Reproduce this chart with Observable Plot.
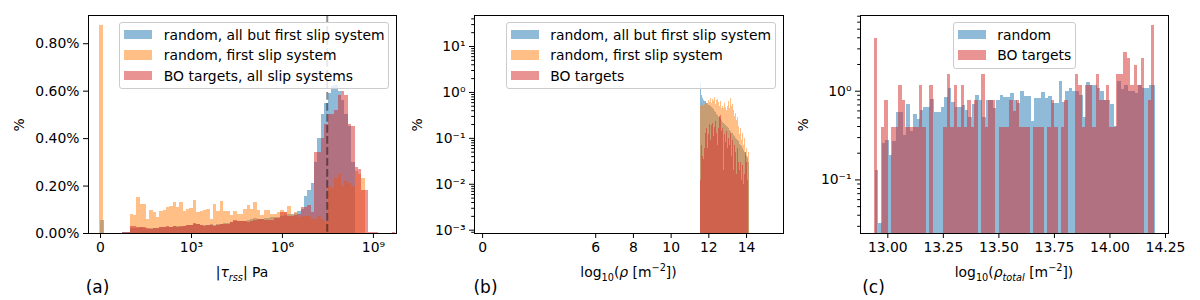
<!DOCTYPE html>
<html><head><meta charset="utf-8">
<script src="https://cdn.jsdelivr.net/npm/d3@7"></script>
<script src="https://cdn.jsdelivr.net/npm/@observablehq/plot@0.6"></script>
<style>
body{margin:0;background:#fff;font-family:"DejaVu Sans",sans-serif;}
#root{position:relative;width:1200px;height:300px;overflow:hidden;background:#fff;}
.lbl{position:absolute;font-size:13.9px;white-space:nowrap;color:#000;transform:translate(-50%,-50%);line-height:1;}
.lbl sub,.lbl sup{font-size:70%;line-height:0;}
.legend{position:absolute;background:rgba(255,255,255,0.8);border:1px solid #cccccc;border-radius:3px;box-sizing:border-box;}
.legend .t{position:absolute;font-size:13.9px;line-height:16px;white-space:nowrap;color:#000;}
.legend .s{position:absolute;}
</style></head><body><div id="root"></div>
<script>
// ---------------- DATA ----------------
// Panel (a): |tau_rss| histograms, bins of 1/9 decade starting at log10 = 0.95 (bin index 0)
const tauLog10Start = 0.95;
const tauLog10Step = 1 / 9;
const tauBlueFirstBin = -3;
const tauBlue = [0.004, 0.004, 0.006,
  0.02, 0.022, 0.02, 0.024, 0.022, 0.018, 0.02, 0.022, 0.02, 0.024,
  0.025, 0.027, 0.024, 0.028, 0.03, 0.027, 0.03, 0.032, 0.035, 0.037,
  0.036, 0.034, 0.032, 0.034, 0.036, 0.035, 0.038, 0.04, 0.042, 0.044,
  0.046, 0.05, 0.049, 0.05, 0.052, 0.053, 0.058, 0.062, 0.06, 0.058,
  0.062, 0.064, 0.066, 0.068, 0.068, 0.072, 0.076, 0.08, 0.078, 0.085,
  0.092, 0.1, 0.155, 0.18, 0.21, 0.3, 0.4, 0.5, 0.55, 0.59,
  0.62, 0.623, 0.6, 0.56, 0.5, 0.45, 0.3];
const tauOrangeFirstBin = 0;
const tauOrange = [0.08, 0.077, 0.15, 0.123, 0.123, 0.061, 0.095, 0.09, 0.066, 0.091,
  0.095, 0.108, 0.115, 0.129, 0.11, 0.129, 0.091, 0.1, 0.105, 0.14,
  0.088, 0.091, 0.096, 0.1, 0.06, 0.123, 0.093, 0.133, 0.093, 0.091,
  0.077, 0.091, 0.08, 0.08, 0.1, 0.118, 0.1, 0.13, 0.095, 0.077,
  0.095, 0.095, 0.082, 0.08, 0.09, 0.095, 0.09, 0.115, 0.075, 0.09,
  0.068, 0.07, 0.07, 0.07, 0.06, 0.06, 0.07, 0.06, 0.05, 0.2,
  0.19, 0.23, 0.25, 0.2, 0.22, 0.21, 0.2, 0.26, 0.25, 0.23];
const tauRedFirstBin = -3;
const tauRed = [0.004, 0.005, 0.005,
  0.028, 0.028, 0.025, 0.026, 0.026, 0.02, 0.018, 0.02, 0.02, 0.024,
  0.025, 0.028, 0.026, 0.028, 0.026, 0.028, 0.03, 0.035, 0.035, 0.042,
  0.04, 0.035, 0.03, 0.032, 0.032, 0.03, 0.035, 0.038, 0.04, 0.04,
  0.045, 0.055, 0.05, 0.05, 0.05, 0.048, 0.05, 0.055, 0.058, 0.058,
  0.055, 0.055, 0.055, 0.063, 0.063, 0.09, 0.09, 0.07, 0.07, 0.075,
  0.08, 0.11, 0.11, 0.12, 0.09, 0.34, 0.34, 0.4, 0.46, 0.5,
  0.5, 0.52, 0.58, 0.6, 0.58, 0.46, 0.45, 0.28, 0.27, 0.18,
  0.18, 0.006, 0.006, 0.004, 0, 0, 0, 0, 0.004];
const tauZeroBinBlue = [0, 0.37], tauZeroBlue = 0.055;
const tauZeroBinOrange = [-0.07, 0.25], tauZeroOrange = 0.875;
const tauCritical = 3e7;
const tauTicks = [0, 1e3, 1e6, 1e9];
const pctTicks = [0, 0.2, 0.4, 0.6, 0.8];

// Panel (b): log10(rho) histograms, bins of 0.05 starting at 11.55
const rhoStart = 11.55;
const rhoStep = 0.05;
const rhoBlue = [1.55, 0.85, 0.72, 0.68, 0.65, 0.62, 0.6, 0.57, 0.56, 0.53,
  0.51, 0.5, 0.48, 0.45, 0.42, 0.38, 0.36, 0.33, 0.31, 0.29,
  0.28, 0.265, 0.25, 0.24, 0.225, 0.21, 0.2, 0.19, 0.18, 0.17,
  0.16, 0.15, 0.14, 0.13, 0.125, 0.115, 0.108, 0.1, 0.095, 0.09,
  0.085, 0.08, 0.075, 0.07, 0.065, 0.06, 0.055, 0.05, 0.045, 0.04,
  0.036, 0.03];
const rhoOrange = [0.5, 0.58, 0.52, 0.5, 0.55, 0.62, 0.5, 0.58, 0.55, 0.68,
  0.6, 0.74, 0.58, 0.7, 0.63, 0.76, 0.55, 0.66, 0.7, 0.6,
  0.5, 0.62, 0.45, 0.55, 0.5, 0.45, 0.58, 0.48, 0.4, 0.5,
  0.62, 0.45, 0.72, 0.5, 0.55, 0.4, 0.3, 0.35, 0.24, 0.28,
  0.18, 0.22, 0.12, 0.16, 0.09, 0.13, 0.07, 0.1, 0.05, 0.06,
  0.04, 0.05];
const rhoRed = [0.012, 0.07, 0.04, 0.035, 0.06, 0.13, 0.1, 0.16, 0.06, 0.12,
  0.2, 0.09, 0.19, 0.21, 0.11, 0.17, 0.23, 0.13, 0.07, 0.16,
  0.3, 0.32, 0.14, 0.05, 0.16, 0.02, 0.12, 0.08, 0.14, 0.06,
  0.1, 0.07, 0.13, 0.04, 0.09, 0.02, 0.07, 0.05, 0.016, 0.06,
  0.03, 0.04, 0.02, 0.03, 0.012, 0.025, 0.01, 0.016, 0.05, 0.03,
  0.012];
const rhoTicks = [0, 6, 8, 10, 12, 14];
const rhoYTicks = [1e-3, 1e-2, 1e-1, 1, 10];

// Panel (c): log10(rho_total) histograms, 81 bins from 12.9401, width 0.015586
const totStart = 12.9401;
const totStep = 0.015586;
const totBlueStart = 12.9446;
const totBlue = [0.128, 0.032, 0.26, 0.28, 0.19, 0.27, 0.58, 0.58, 0.32, 0.71,
  0.35, 0.55, 0.48, 0.6, 0.66, 0.66, 0.8, 0.58, 0.58, 0.66,
  0.85, 1.06, 0.75, 0.66, 0.66, 0.69, 0.61, 0.5, 0.7, 0.9,
  0.78, 0.5, 0.78, 0.78, 0.63, 0.78, 0.9, 0.85, 0.85, 0.94,
  0.78, 0.72, 1.0, 0.88, 0.88, 0.46, 0.82, 0.82, 0.97, 0.82,
  0.88, 0.72, 0.72, 1.29, 0.74, 0.98, 1.07, 1.0, 1.0, 0.9,
  0.5, 1.25, 1.17, 1.17, 1.06, 1.0, 0.78, 0.78, 0.7, 0.4,
  1.3, 1.05, 1.17, 1.0, 1.0, 0.95, 1.17, 1.06, 1.06, 1.17,
  1.17];
const totRed = [3.9, 0, 0.39, 0.78, 0, 0.39, 0.39, 1.17, 0.78, 0.39,
  0.39, 0.39, 0.39, 1.17, 0.39, 0, 1.17, 0, 0, 0,
  0.39, 1.56, 0.39, 1.17, 0.39, 1.17, 0.39, 0.78, 0.39, 0.78,
  0, 1.56, 0.39, 0.78, 0.78, 0, 0.39, 0.39, 0.39, 0.78,
  0.59, 0.78, 0.39, 0.39, 0.39, 0, 0.39, 0.39, 0.39, 0,
  0.39, 0.78, 0.39, 0, 0.39, 0.78, 0, 0, 1.56, 1.17,
  0.39, 1.17, 1.17, 0.39, 1.56, 0.78, 0.78, 1.17, 0.39, 0.39,
  1.56, 1.56, 2.73, 2.34, 1.17, 1.95, 1.17, 2.34, 0, 0.78,
  5.47];
const totTicks = [13.0, 13.25, 13.5, 13.75, 14.0, 14.25];
const totYTicks = [0.1, 1];

const legendA = ["random, all but first slip system", "random, first slip system", "BO targets, all slip systems"];
const legendB = ["random, all but first slip system", "random, first slip system", "BO targets"];
const legendC = ["random", "BO targets"];

// ---------------- HELPERS ----------------
const BLUE = "#1f77b4", ORANGE = "#ff7f0e", RED = "#d62728";
const root = document.getElementById("root");
const SUP = {"-": "⁻", "0": "⁰", "1": "¹", "2": "²", "3": "³", "4": "⁴", "5": "⁵", "6": "⁶", "7": "⁷", "8": "⁸", "9": "⁹"};
const pow10 = d => d === 0 ? "0" : "10" + String(Math.round(Math.log10(d))).replace(/./g, c => SUP[c]);
const STYLE = {fontFamily: "DejaVu Sans", fontSize: "13.9px", background: "transparent", color: "black", overflow: "visible"};

function bins(values, start, step, base, map = e => e) {
  return values.map((v, i) => ({x1: map(start + step * i), x2: map(start + step * (i + 1)), y1: base, y2: v}))
    .filter(d => d.y2 > 0);
}
function bars(data, color) {
  return Plot.rect(data, {x1: "x1", x2: "x2", y1: "y1", y2: "y2", fill: color, fillOpacity: 0.5, inset: 0, shapeRendering: "crispEdges"});
}
function minorLog(lo, hi) {
  const out = [];
  for (let e = Math.floor(Math.log10(lo)); e <= Math.ceil(Math.log10(hi)); e++)
    for (let m = 2; m <= 9; m++) { const v = m * 10 ** e; if (v >= lo && v <= hi) out.push(v); }
  return out;
}
function place(svg, left) {
  svg.style.position = "absolute"; svg.style.left = left + "px"; svg.style.top = "0px";
  root.appendChild(svg);
}
function label(html, x, y, size) {
  const d = document.createElement("div");
  d.className = "lbl"; d.innerHTML = html;
  d.style.left = x + "px"; d.style.top = y + "px";
  if (size) d.style.fontSize = size + "px";
  root.appendChild(d); return d;
}
function ylabel(x, y) { const d = label("%", x, y); d.style.transform = "translate(-50%,-50%) rotate(-90deg)"; }
function legend(left, top, width, items) {
  const box = document.createElement("div");
  box.className = "legend";
  Object.assign(box.style, {left: left + "px", top: top + "px", width: width + "px", height: (5.5 + 20.5 * items.length) + "px"});
  items.forEach(([text, color], i) => {
    const cy = 11.4 + 20.5 * i;
    const s = document.createElement("div"); s.className = "s";
    Object.assign(s.style, {left: "4.2px", top: (cy - 4.9) + "px", width: "27.8px", height: "9.7px", background: color, opacity: 0.5});
    const t = document.createElement("div"); t.className = "t"; t.textContent = text;
    Object.assign(t.style, {left: "43.5px", top: (cy - 8) + "px"});
    box.appendChild(s); box.appendChild(t);
  });
  root.appendChild(box);
}
const common = {width: 400, height: 300, marginTop: 15, marginBottom: 67, style: STYLE};

// ---------------- PANEL A ----------------
{
  const m = e => 10 ** e;
  const blue = bins(tauBlue, tauLog10Start + tauLog10Step * tauBlueFirstBin, tauLog10Step, 0, m);
  const orange = bins(tauOrange, tauLog10Start + tauLog10Step * tauOrangeFirstBin, tauLog10Step, 0, m);
  const red = bins(tauRed, tauLog10Start + tauLog10Step * tauRedFirstBin, tauLog10Step, 0, m);
  blue.unshift({x1: tauZeroBinBlue[0], x2: tauZeroBinBlue[1], y1: 0, y2: tauZeroBlue});
  orange.unshift({x1: tauZeroBinOrange[0], x2: tauZeroBinOrange[1], y1: 0, y2: tauZeroOrange});
  place(Plot.plot({
    ...common, marginLeft: 88, marginRight: 4,
    x: {type: "symlog", constant: 1, domain: [-1.487, 5.77e9]},
    y: {type: "linear", domain: [0, 0.919]},
    marks: [
      bars(blue, BLUE), bars(orange, ORANGE), bars(red, RED),
      Plot.ruleX([tauCritical], {stroke: "black", strokeOpacity: 0.45, strokeWidth: 2, strokeDasharray: "7.7,3.3"}),
      Plot.frame({stroke: "black", strokeWidth: 1}),
      Plot.axisX({ticks: tauTicks, tickFormat: pow10, tickSize: 5, tickPadding: 4, label: null}),
      Plot.axisY({ticks: pctTicks, tickFormat: d => d.toFixed(2) + "%", tickSize: 5, tickPadding: 4, label: null})
    ]
  }), 0);
  ylabel(20, 125);
  label("|<i>τ</i><sub><i>rss</i></sub>| Pa", 242, 273);
  label("(a)", 97.5, 287, 17);
  legend(119.3, 22.3, 270, [[legendA[0], BLUE], [legendA[1], ORANGE], [legendA[2], RED]]);
}

// ---------------- PANEL B ----------------
{
  const yDom = [10 ** -3.072, 10 ** 1.675];
  place(Plot.plot({
    ...common, marginLeft: 74, marginRight: 17,
    x: {type: "linear", domain: [-0.43, 15.96]},
    y: {type: "log", domain: yDom},
    marks: [
      bars(bins(rhoBlue, rhoStart, rhoStep, yDom[0]), BLUE),
      bars(bins(rhoOrange, rhoStart, rhoStep, yDom[0]), ORANGE),
      bars(bins(rhoRed, rhoStart, rhoStep, yDom[0]), RED),
      Plot.frame({stroke: "black", strokeWidth: 1}),
      Plot.axisX({ticks: rhoTicks, tickFormat: d => String(d), tickSize: 5, tickPadding: 4, label: null}),
      Plot.axisY({ticks: minorLog(yDom[0], yDom[1]), tickFormat: () => "", tickSize: 2.8, label: null}),
      Plot.axisY({ticks: rhoYTicks, tickFormat: pow10, tickSize: 5, tickPadding: 4, label: null})
    ]
  }), 400);
  ylabel(418, 125);
  label("log<sub>10</sub>(<i>ρ</i> [m<sup>−2</sup>])", 628.5, 273);
  label("(b)", 485.5, 287, 17);
  legend(505.7, 22.3, 270, [[legendB[0], BLUE], [legendB[1], ORANGE], [legendB[2], RED]]);
}

// ---------------- PANEL C ----------------
{
  const yDom = [0.0249, 7.13];
  place(Plot.plot({
    ...common, marginLeft: 60, marginRight: 32,
    x: {type: "linear", domain: [12.877, 14.2635]},
    y: {type: "log", domain: yDom},
    marks: [
      bars(bins(totBlue, totBlueStart, totStep, yDom[0]), BLUE),
      bars(bins(totRed, totStart, totStep, yDom[0]), RED),
      Plot.frame({stroke: "black", strokeWidth: 1}),
      Plot.axisX({ticks: totTicks, tickFormat: d => d.toFixed(2), tickSize: 5, tickPadding: 4, label: null}),
      Plot.axisY({ticks: minorLog(yDom[0], yDom[1]), tickFormat: () => "", tickSize: 2.8, label: null}),
      Plot.axisY({ticks: totYTicks, tickFormat: pow10, tickSize: 5, tickPadding: 4, label: null})
    ]
  }), 800);
  ylabel(804, 125);
  label("log<sub>10</sub>(<i>ρ</i><sub><i>total</i></sub> [m<sup>−2</sup>])", 1014, 273);
  label("(c)", 873.5, 287, 17);
  legend(952.7, 22.3, 123.3, [[legendC[0], BLUE], [legendC[1], RED]]);
}
</script></body></html>
